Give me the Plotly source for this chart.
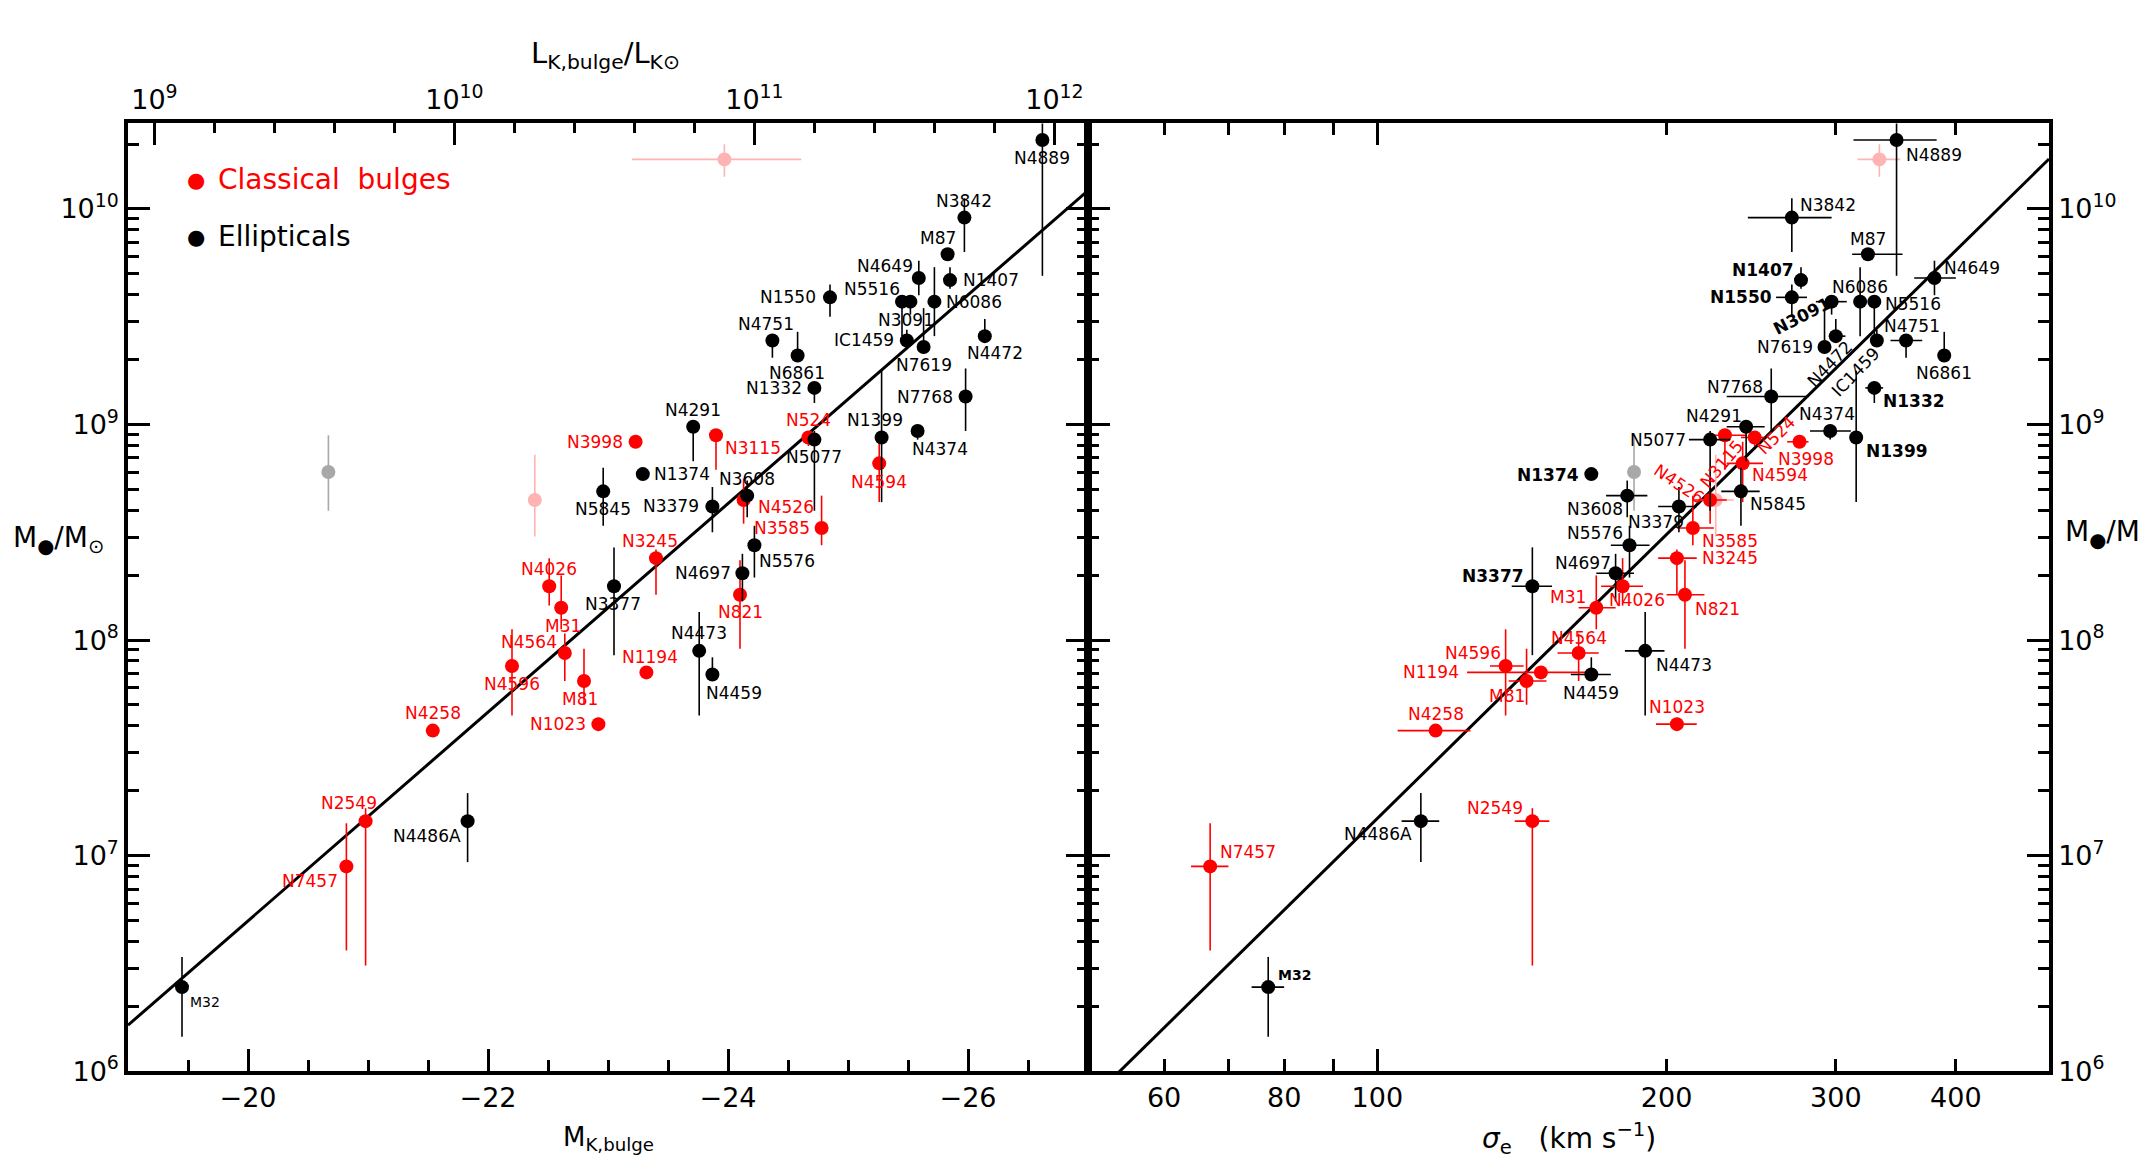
import numpy as np
import plotly.graph_objects as go

# ============================ DATA ============================
# Ellipticals (black)
ell_names = ["M32", "N4486A", "N3377", "N4473", "N4459", "N4697", "N5576", "N3379", "N3608",
             "N5845", "N1374", "N4291", "N5077", "N4374", "N1399", "N7768", "N1332", "IC1459",
             "N7619", "N4472", "N4751", "N6861", "N5516", "N3091", "N6086", "N1550", "N4649",
             "N1407", "M87", "N3842", "N4889"]
ell_MK = [-19.45, -21.83, -23.05, -23.76, -23.87, -24.12, -24.22, -23.87, -24.16,
          -22.96, -23.29, -23.71, -24.72, -25.58, -25.28, -25.98, -24.72, -25.49,
          -25.63, -26.14, -24.37, -24.58, -25.45, -25.52, -25.72, -24.85, -25.59,
          -25.85, -25.83, -25.97, -26.62]
ell_logM = [6.39, 7.16, 8.25, 7.95, 7.84, 8.31, 8.44, 8.62, 8.67,
            8.69, 8.77, 8.99, 8.93, 8.97, 8.94, 9.13, 9.17, 9.39,
            9.36, 9.41, 9.39, 9.32, 9.57, 9.57, 9.57, 9.59, 9.68,
            9.67, 9.79, 9.96, 10.32]
ell_logM_lo = [6.16, 6.97, 7.93, 7.65, 7.81, 8.18, 8.29, 8.50, 8.57,
               8.53, 8.75, 8.83, 8.60, 8.93, 8.64, 8.97, 9.10, 9.36,
               9.33, 9.38, 9.31, 9.30, 9.41, 9.51, 9.41, 9.50, 9.60,
               9.63, 9.76, 9.80, 9.69]
ell_logM_hi = [6.53, 7.29, 8.43, 8.13, 7.92, 8.40, 8.53, 8.71, 8.74,
               8.80, 8.79, 9.02, 8.97, 9.00, 9.25, 9.26, 9.20, 9.44,
               9.54, 9.49, 9.41, 9.43, 9.60, 9.60, 9.73, 9.65, 9.76,
               9.73, 9.81, 10.05, 10.45]
ell_sigma = [77, 111, 145, 190, 167, 177, 183, 206, 182,
             239, 167, 242, 222, 296, 315, 257, 329, 331,
             292, 300, 355, 389, 329, 297, 318, 270, 380,
             276, 324, 270, 347]
ell_sig_lo = [74, 106, 138, 181, 159, 169, 175, 196, 173,
              228, 165, 231, 211, 282, 315, 231, 322, 331,
              292, 295, 342, 389, 329, 286, 318, 260, 362,
              276, 312, 243, 313]
ell_sig_hi = [80, 116, 152, 199, 175, 185, 192, 215, 191,
              250, 169, 253, 233, 311, 315, 281, 336, 331,
              292, 307, 369, 389, 329, 308, 318, 280, 400,
              276, 352, 297, 382]

# Classical bulges (red)
bul_names = ["N7457", "N2549", "N4258", "N4596", "N4564", "M31", "M81", "N1023", "N1194",
             "N4026", "N3245", "N821", "N3115", "N524", "N4526", "N3585", "N4594", "N3998"]
bul_MK = [-20.82, -20.98, -21.54, -22.20, -22.64, -22.61, -22.80, -22.92, -23.32,
          -22.51, -23.40, -24.10, -23.90, -24.67, -24.13, -24.78, -25.26, -23.23]
bul_logM = [6.95, 7.16, 7.58, 7.88, 7.94, 8.15, 7.81, 7.61, 7.85,
            8.25, 8.38, 8.21, 8.95, 8.94, 8.65, 8.52, 8.82, 8.92]
bul_logM_lo = [6.56, 6.49, 7.56, 7.65, 7.81, 8.05, 7.70, 7.59, 7.82,
               8.16, 8.21, 7.96, 8.79, 8.90, 8.54, 8.44, 8.64, 8.90]
bul_logM_hi = [7.15, 7.22, 7.59, 8.05, 8.03, 8.30, 7.96, 7.64, 7.87,
               8.38, 8.42, 8.37, 8.97, 8.97, 8.75, 8.67, 8.92, 8.95]
bul_sigma = [67, 145, 115, 136, 162, 169, 143, 205, 148,
             180, 205, 209, 230, 247, 222, 213, 240, 275]
bul_sig_lo = [64, 139, 105, 131, 154, 162, 137, 195, 124,
              171, 196, 200, 220, 239, 213, 205, 231, 267]
bul_sig_hi = [70, 151, 125, 142, 170, 177, 150, 215, 167,
              189, 215, 219, 242, 253, 231, 224, 252, 281]

# Omitted objects (pink and grey)
pink_MK = [-23.97, -22.39]
pink_MK_bright = [-24.61, -22.39]
pink_MK_faint = [-23.20, -22.39]
pink_logM = [10.23, 8.65]
pink_logM_lo = [10.15, 8.48]
pink_logM_hi = [10.30, 8.86]
pink_sigma = [333, 225]
pink_sig_lo = [316, 217]
pink_sig_hi = [350, 235]

grey_MK = [-20.67]
grey_logM = [8.78]
grey_logM_lo = [8.60]
grey_logM_hi = [8.95]
grey_sigma = [185]

# Fit relations (Kormendy & Ho 2013)
FIT_L = dict(a=-0.265, b=-0.484, m0=-24.21)     # log(M/1e9) = a + b (MK - m0)
FIT_S = dict(a=-0.510, b=4.377, s0=200.0)       # log(M/1e9) = a + b log(sigma/s0)
M_SUN_K = 3.28

# Axis ranges
MK_RANGE = [-19.0, -27.0]
LOGM_RANGE = [6.0, 10.397]
SIG_RANGE = [50.0, 500.0]

# ============================ LABEL PLACEMENT (pixels) ============================
# name: (dx, dy, anchor[, angle])   dy>0 means downward
LEFT_LAB = {
    "N4889": (0, 18, 'c'), "N3842": (0, -17, 'c'), "M87": (-10, -16, 'c'),
    "N4649": (-34, -12, 'c'), "N1407": (11, 0, 'l'), "N5516": (-30, -13, 'c'),
    "N6086": (10, 0, 'l'), "N3091": (-4, 18, 'c'), "N1550": (-12, 0, 'r'),
    "N4751": (-6, -16, 'c'), "N6861": (-1, 17, 'c'), "IC1459": (-11, 0, 'r'),
    "N7619": (0, 18, 'c'), "N4472": (10, 17, 'c'), "N1332": (-10, 0, 'r'),
    "N7768": (-11, 0, 'r'), "N524": (0, -17, 'c'), "N5077": (0, 17, 'c'),
    "N1399": (-7, -17, 'c'), "N4374": (22, 18, 'c'), "N4594": (0, 19, 'c'),
    "N4291": (0, -17, 'c'), "N3998": (-11, 0, 'r'), "N3115": (7, 13, 'l'),
    "N1374": (9, 0, 'l'), "N3608": (0, -17, 'c'), "N3379": (-11, 0, 'r'),
    "N4526": (12, 7, 'l'), "N3585": (-10, 0, 'r'), "N5576": (3, 16, 'l'),
    "N4697": (-9, 0, 'r'), "N3245": (-6, -17, 'c'), "N5845": (0, 18, 'c'),
    "N3377": (-1, 18, 'c'), "N4026": (0, -17, 'c'), "M31": (2, 18, 'c'),
    "N4564": (-36, -11, 'c'), "N4596": (0, 18, 'c'), "M81": (-4, 18, 'c'),
    "N1023": (-10, 0, 'r'), "N1194": (4, -15, 'c'), "N4258": (0, -18, 'c'),
    "N2549": (-17, -18, 'c'), "N7457": (-36, 15, 'c'), "N4486A": (-5, 15, 'r'),
    "M32": (6, 15, 'l'), "N4473": (0, -18, 'c'), "N4459": (22, 18, 'c'),
    "N821": (0, 17, 'c'),
}
RIGHT_LAB = {
    "N4889": (7, 15, 'l'), "N3842": (6, -13, 'l'), "M87": (0, -15, 'c'),
    "N1407": (-5, -10, 'r'), "N1550": (-18, 0, 'r'), "N4649": (8, -10, 'l'),
    "N6086": (0, -15, 'c'), "N5516": (9, 2, 'l'), "N3091": (-30, 14, 'c', -27),
    "N7619": (-10, 0, 'r'), "N4472": (-6, 28, 'c', -46), "IC1459": (-21, 32, 'c', -46),
    "N4751": (6, -14, 'c'), "N6861": (0, 17, 'c'), "N1332": (7, 13, 'l'),
    "N7768": (-6, -10, 'r'), "N4291": (-32, -11, 'c'), "N5077": (-22, 0, 'r'),
    "N4374": (-3, -17, 'c'), "N1399": (8, 14, 'l'), "N3998": (7, 17, 'c'),
    "N4594": (7, 12, 'l'), "N524": (22, -2, 'c', -45), "N3115": (-3, 29, 'c', -50),
    "N4526": (-31, -16, 'c', 34), "N1374": (-10, 1, 'r'), "N3608": (-32, 13, 'c'),
    "N3379": (-23, 16, 'c'), "N5845": (7, 13, 'l'), "N3585": (7, 13, 'l'),
    "N3245": (23, 0, 'l'), "N821": (8, 14, 'l'), "N5576": (-35, -12, 'c'),
    "N4697": (-33, -10, 'c'), "N4026": (14, 14, 'c'), "M31": (-8, -11, 'r'),
    "N4564": (0, -15, 'c'), "N4459": (0, 18, 'c'), "N4473": (9, 14, 'l'),
    "N1023": (0, -17, 'c'), "N3377": (-6, -10, 'r'), "N4596": (-33, -13, 'c'),
    "N1194": (-80, 0, 'r'), "M81": (-20, 15, 'c'), "N4258": (0, -17, 'c'),
    "N4486A": (-7, 13, 'r'), "N2549": (-37, -13, 'c'), "N7457": (8, -14, 'l'),
    "M32": (8, -12, 'l'),
}
RIGHT_BOLD = {"N1407", "N1550", "N3091", "N1374", "N3377", "N1332", "N1399", "M32"}

# ============================ STYLE / GEOMETRY ============================
W, H = 2139, 1176
PX_L0, PX_MID, PX_R1 = 128, 1088, 2049
PX_TOP, PX_BOT = 125, 1085
XL = [PX_L0 / W, PX_MID / W]
XR = [PX_MID / W, PX_R1 / W]
YD = [(H - PX_BOT) / H, (H - PX_TOP) / H]

RED, BLACK, PINK, GREY = "#ff0000", "#000000", "#ffb3b3", "#a8a8a8"
FONT = "DejaVu Sans"
MS = 14
EW = 1.6

fig = go.Figure()


def yerr(logm, lo, hi, color):
    m = 10 ** np.array(logm, float)
    return dict(type="data", symmetric=False,
                array=np.maximum(10 ** np.array(hi, float) - m, 0),
                arrayminus=np.maximum(m - 10 ** np.array(lo, float), 0),
                color=color, thickness=EW, width=0)


def xerr(v, lo, hi, color):
    v = np.array(v, float)
    return dict(type="data", symmetric=False,
                array=np.maximum(np.array(hi, float) - v, 0),
                arrayminus=np.maximum(v - np.array(lo, float), 0),
                color=color, thickness=EW, width=0)


def pts(x, y, ex, ey, color, xa, ya):
    fig.add_trace(go.Scatter(x=x, y=10 ** np.array(y, float), mode="markers",
                             marker=dict(size=MS, color=color, line=dict(width=0)),
                             error_x=ex, error_y=ey, xaxis=xa, yaxis=ya,
                             showlegend=False, hoverinfo="skip"))


# ---- fit lines ----
mk_line = np.array(MK_RANGE)
fig.add_trace(go.Scatter(x=mk_line,
                         y=10 ** (9 + FIT_L["a"] + FIT_L["b"] * (mk_line - FIT_L["m0"])),
                         mode="lines", line=dict(color=BLACK, width=3),
                         xaxis="x", yaxis="y", showlegend=False, hoverinfo="skip"))
sg_line = np.array(SIG_RANGE)
fig.add_trace(go.Scatter(x=sg_line,
                         y=10 ** (9 + FIT_S["a"] + FIT_S["b"] * np.log10(sg_line / FIT_S["s0"])),
                         mode="lines", line=dict(color=BLACK, width=3),
                         xaxis="x2", yaxis="y2", showlegend=False, hoverinfo="skip"))

# ---- left panel points ----
pts(grey_MK, grey_logM, None, yerr(grey_logM, grey_logM_lo, grey_logM_hi, GREY), GREY, "x", "y")
pts(pink_MK, pink_logM,
    dict(type="data", symmetric=False,
         array=np.array(pink_MK_faint) - np.array(pink_MK),
         arrayminus=np.array(pink_MK) - np.array(pink_MK_bright),
         color=PINK, thickness=EW, width=0),
    yerr(pink_logM, pink_logM_lo, pink_logM_hi, PINK), PINK, "x", "y")
pts(bul_MK, bul_logM, None, yerr(bul_logM, bul_logM_lo, bul_logM_hi, RED), RED, "x", "y")
pts(ell_MK, ell_logM, None, yerr(ell_logM, ell_logM_lo, ell_logM_hi, BLACK), BLACK, "x", "y")

# ---- right panel points ----
pts(grey_sigma, grey_logM, None, yerr(grey_logM, grey_logM_lo, grey_logM_hi, GREY), GREY, "x2", "y2")
pts(pink_sigma, pink_logM, xerr(pink_sigma, pink_sig_lo, pink_sig_hi, PINK),
    yerr(pink_logM, pink_logM_lo, pink_logM_hi, PINK), PINK, "x2", "y2")
pts(bul_sigma, bul_logM, xerr(bul_sigma, bul_sig_lo, bul_sig_hi, RED),
    yerr(bul_logM, bul_logM_lo, bul_logM_hi, RED), RED, "x2", "y2")
pts(ell_sigma, ell_logM, xerr(ell_sigma, ell_sig_lo, ell_sig_hi, BLACK),
    yerr(ell_logM, ell_logM_lo, ell_logM_hi, BLACK), BLACK, "x2", "y2")

# empty traces to register overlay axes
fig.add_trace(go.Scatter(x=[], y=[], xaxis="x3", yaxis="y", showlegend=False))
fig.add_trace(go.Scatter(x=[], y=[], xaxis="x4", yaxis="y2", showlegend=False))

# ---- point labels ----
ann = []
XANCH = {'c': 'center', 'l': 'left', 'r': 'right'}


def add_labels(names, xs, ys, place, color, xref, yref, bold=(), logx=False):
    for n, xv, yv in zip(names, xs, ys):
        if n not in place:
            continue
        p = place[n]
        dx, dy, a = p[0], p[1], p[2]
        ang = p[3] if len(p) > 3 else 0
        size = 14 if n == "M32" else 17
        txt = f"<b>{n}</b>" if n in bold else n
        ann.append(dict(x=np.log10(xv) if logx else xv, y=yv, xref=xref, yref=yref,
                        text=txt, showarrow=False, xanchor=XANCH[a], yanchor="middle",
                        xshift=dx, yshift=-dy, textangle=ang,
                        font=dict(family=FONT, size=size, color=color)))


add_labels(ell_names, ell_MK, ell_logM, LEFT_LAB, BLACK, "x", "y")
add_labels(bul_names, bul_MK, bul_logM, LEFT_LAB, RED, "x", "y")
add_labels(ell_names, ell_sigma, ell_logM, RIGHT_LAB, BLACK, "x2", "y2", RIGHT_BOLD, logx=True)
add_labels(bul_names, bul_sigma, bul_logM, RIGHT_LAB, RED, "x2", "y2", RIGHT_BOLD, logx=True)

# legend (text)
ann += [
    dict(x=196 / W, y=(H - 182) / H, xref="paper", yref="paper", text="●", showarrow=False,
         xanchor="center", yanchor="middle", font=dict(family=FONT, size=21, color=RED)),
    dict(x=216 / W, y=(H - 182) / H, xref="paper", yref="paper", text="Classical  bulges",
         showarrow=False, xanchor="left", yanchor="middle",
         font=dict(family=FONT, size=28, color=RED)),
    dict(x=196 / W, y=(H - 240) / H, xref="paper", yref="paper", text="●", showarrow=False,
         xanchor="center", yanchor="middle", font=dict(family=FONT, size=21, color=BLACK)),
    dict(x=216 / W, y=(H - 240) / H, xref="paper", yref="paper", text="Ellipticals",
         showarrow=False, xanchor="left", yanchor="middle",
         font=dict(family=FONT, size=28, color=BLACK)),
]
# axis titles
TF = dict(family=FONT, size=26, color=BLACK)
ann += [
    dict(x=58 / W, y=(H - 546) / H, xref="paper", yref="paper",
         text="M<sub>●</sub>/M<sub>⊙</sub>", showarrow=False,
         xanchor="center", yanchor="middle", font=dict(family=FONT, size=28, color=BLACK)),
    dict(x=2063 / W, y=(H - 540) / H, xref="paper", yref="paper",
         text="M<sub>●</sub>/M<sub>⊙</sub>", showarrow=False,
         xanchor="left", yanchor="middle", font=dict(family=FONT, size=28, color=BLACK)),
    dict(x=(PX_L0 + PX_MID) / 2 / W, y=(H - 1153) / H, xref="paper", yref="paper",
         text="M<sub>K,bulge</sub>", showarrow=False, xanchor="center", yanchor="middle", font=TF),
    dict(x=605 / W, y=(H - 56) / H, xref="paper", yref="paper",
         text="L<sub>K,bulge</sub>/L<sub>K⊙</sub>", showarrow=False,
         xanchor="center", yanchor="middle", font=dict(family=FONT, size=29, color=BLACK)),
    dict(x=(PX_MID + PX_R1) / 2 / W, y=(H - 1153) / H, xref="paper", yref="paper",
         text="<i>σ</i><sub>e</sub>   (km s<sup>−1</sup>)", showarrow=False,
         xanchor="center", yanchor="middle", font=dict(family=FONT, size=28, color=BLACK)),
]

# ---- axes ----
TICKF = dict(family=FONT, size=27, color=BLACK)
common = dict(showgrid=False, zeroline=False, showline=True, linecolor=BLACK, linewidth=3.5,
              ticks="inside", tickcolor=BLACK, tickwidth=3, ticklen=22, tickfont=TICKF)

dec = [10 ** e for e in range(6, 11)]
dec_txt = [f"10<sup>{e}</sup>" for e in range(6, 11)]
minor_y = [k * 10 ** e for e in range(6, 11) for k in range(2, 10)
           if np.log10(k * 10 ** e) <= LOGM_RANGE[1]]

logL_range = [(M_SUN_K - MK_RANGE[0]) / 2.5, (M_SUN_K - MK_RANGE[1]) / 2.5]

sig_ticks = [60, 70, 80, 90, 100, 200, 300, 400]
sig_text = ["60", " ", "80", " ", "100", "200", "300", "400"]

fig.update_layout(
    width=W, height=H, margin=dict(l=0, r=0, t=0, b=0),
    paper_bgcolor="white", plot_bgcolor="white", showlegend=False,
    xaxis=dict(domain=XL, range=MK_RANGE, anchor="y", side="bottom", mirror=False,
               tickvals=[-26, -24, -22, -20],
               minor=dict(dtick=0.5, tick0=0, ticks="inside", ticklen=11, tickwidth=2.5,
                          tickcolor=BLACK),
               **common),
    xaxis3=dict(overlaying="x", anchor="y", side="top", range=logL_range,
                tickvals=[9, 10, 11, 12], ticktext=[f"10<sup>{e}</sup>" for e in (9, 10, 11, 12)],
                minor=dict(dtick=0.2, tick0=0, ticks="inside", ticklen=10, tickwidth=2.5,
                           tickcolor=BLACK),
                **common),
    yaxis=dict(domain=YD, type="log", range=LOGM_RANGE, anchor="x", side="left", mirror="ticks",
               tickvals=dec, ticktext=dec_txt,
               minor=dict(tickmode="array", tickvals=minor_y, ticks="inside", ticklen=11,
                          tickwidth=2.5, tickcolor=BLACK),
               **common),
    xaxis2=dict(domain=XR, type="log", range=[np.log10(SIG_RANGE[0]), np.log10(SIG_RANGE[1])],
                anchor="y2", side="bottom", mirror="ticks",
                tickvals=sig_ticks, ticktext=sig_text,
                **{**common, "ticklen": 12, "tickwidth": 2.5}),
    xaxis4=dict(overlaying="x2", anchor="y2", side="bottom", type="log",
                range=[np.log10(SIG_RANGE[0]), np.log10(SIG_RANGE[1])],
                tickvals=[100], showticklabels=False, mirror="ticks",
                **{**common, "showline": False}),
    yaxis2=dict(domain=YD, type="log", range=LOGM_RANGE, anchor="x2", side="right", mirror="ticks",
                tickvals=dec, ticktext=dec_txt,
                minor=dict(tickmode="array", tickvals=minor_y, ticks="inside", ticklen=11,
                           tickwidth=2.5, tickcolor=BLACK),
                **common),
    annotations=ann,
)

fig.write_html("out.html", config={"displayModeBar": False},
               post_script="document.documentElement.style.margin='0';document.body.style.margin='0';"
                           "document.body.style.overflow='hidden';document.documentElement.style.overflow='hidden';")
